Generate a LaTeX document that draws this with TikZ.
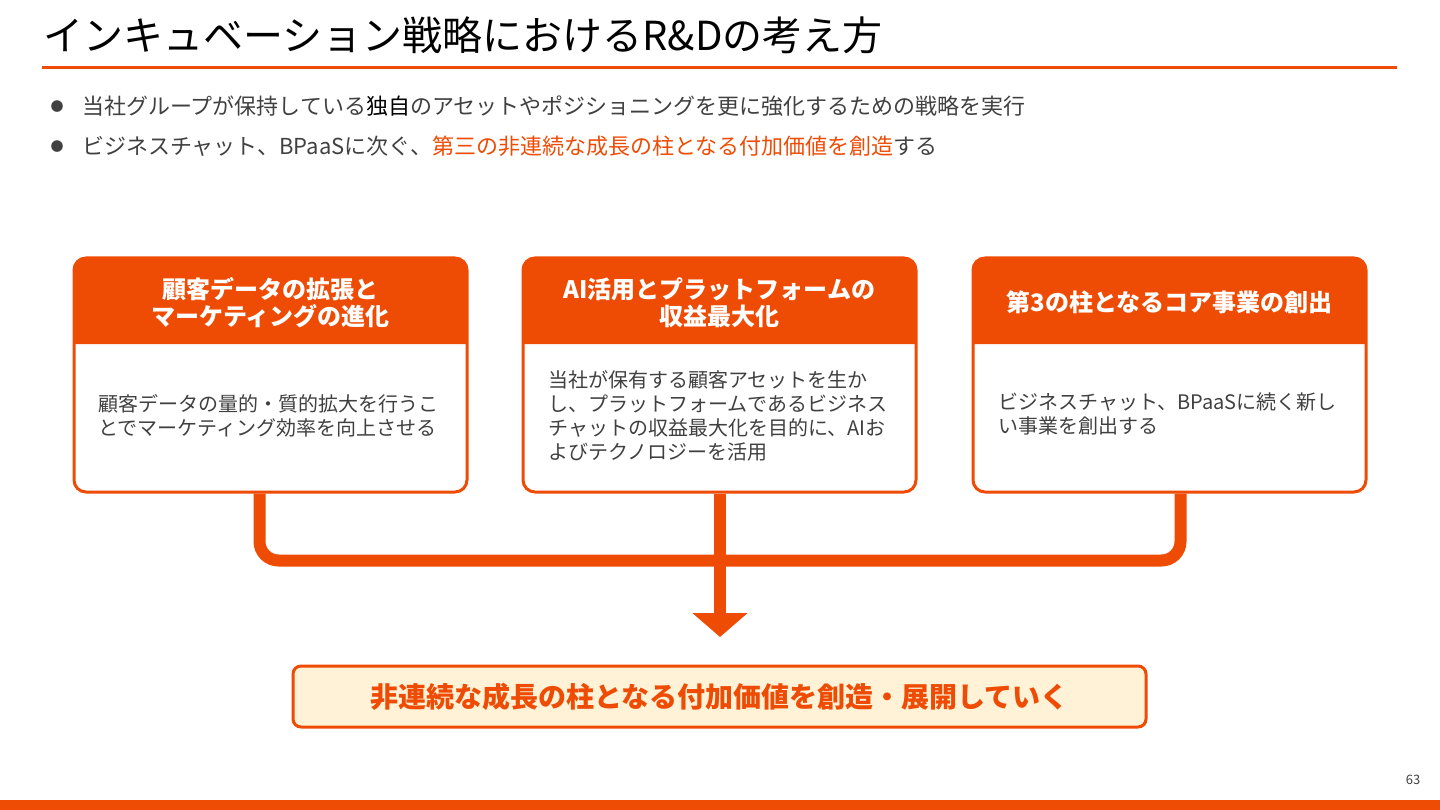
\documentclass[tikz,border=0pt]{standalone}
\usepackage{fontspec}
\setmainfont{Noto Sans CJK JP}
\usetikzlibrary{arrows.meta}
\definecolor{brand}{RGB}{238,76,5}
\definecolor{lightfill}{RGB}{255,242,214}
\definecolor{txtgray}{RGB}{64,64,64}
\tikzset{
  boxframe/.style={draw=brand, line width=3pt, rounded corners=12pt, fill=white, minimum width=393pt, minimum height=234pt, inner sep=0pt},
  headtxt/.style={text=white, font=\fontsize{24}{27}\selectfont\bfseries, align=center},
  bodytxt/.style={text=txtgray, font=\fontsize{20}{24}\selectfont, align=left, anchor=west, inner sep=0pt},
  bullettxt/.style={text=txtgray, font=\fontsize{22}{24}\selectfont, anchor=base west, inner sep=0pt},
  conn/.style={draw=brand, line width=12pt},
}
\begin{document}
\begin{tikzpicture}[x=1pt,y=-1pt]
\useasboundingbox (0,0) rectangle (1440,810);
% title
\node[anchor=base west, inner sep=0pt, font=\fontsize{40}{44}\selectfont] (title) at (43,51) {インキュベーション戦略におけるR\&Dの考え方};
\draw[brand, line width=3pt] (42,68) -- (1397,68);
% bullets
\node[text=txtgray, font=\fontsize{13}{15}\selectfont, inner sep=0pt] (d1) at (57,107) {●};
\node[bullettxt] (l1) at (82,115) {当社グループが保持している\textcolor{black}{独自}のアセットやポジショニングを更に強化するための戦略を実行};
\node[text=txtgray, font=\fontsize{13}{15}\selectfont, inner sep=0pt] (d2) at (57,147) {●};
\node[bullettxt] (l2) at (82,155) {ビジネスチャット、BPaaSに次ぐ、\textcolor{brand}{第三の非連続な成長の柱となる付加価値を創造}する};
% boxes
\node[boxframe] (b1) at (270.5,375) {};
\node[boxframe] (b2) at (719.5,375) {};
\node[boxframe] (b3) at (1169.5,375) {};
\fill[brand] (74,344) [rounded corners=12pt] -- (74,258) -- (467,258) [sharp corners] -- (467,344) -- cycle;
\fill[brand] (523,344) [rounded corners=12pt] -- (523,258) -- (916,258) [sharp corners] -- (916,344) -- cycle;
\fill[brand] (973,344) [rounded corners=12pt] -- (973,258) -- (1366,258) [sharp corners] -- (1366,344) -- cycle;
\node[headtxt] (h1) at (270.5,303) {顧客データの拡張と\\マーケティングの進化};
\node[headtxt] (h2) at (719.5,303) {AI活用とプラットフォームの\\収益最大化};
\node[headtxt] (h3) at (1169.5,302) {第3の柱となるコア事業の創出};
\node[bodytxt] (t1) at (98,416) {顧客データの量的・質的拡大を行うこ\\とでマーケティング効率を向上させる};
\node[bodytxt] (t2) at (548,416) {当社が保有する顧客アセットを生か\\し、プラットフォームであるビジネス\\チャットの収益最大化を目的に、AIお\\よびテクノロジーを活用};
\node[bodytxt] (t3) at (998,414) {ビジネスチャット、BPaaSに続く新し\\い事業を創出する};
% target box
\node[draw=brand, line width=3pt, fill=lightfill, rounded corners=8pt, minimum width=853pt, minimum height=61pt, text=brand, font=\fontsize{28}{30}\selectfont\bfseries] (goal) at (719.5,696.5) {非連続な成長の柱となる付加価値を創造・展開していく};
% connectors
\coordinate (s1) at ([xshift=-11pt]b1.south);
\coordinate (s3) at ([xshift=11pt]b3.south);
\coordinate (s2) at ([xshift=0.5pt]b2.south);
\coordinate (tip) at (720,637);
\draw[conn, rounded corners=19pt] (s1) -- (s1 |- 0,560.5) -- (s3 |- 0,560.5) -- (s3);
\draw[conn, -{Triangle[width=54pt,length=24pt]}] (s2) -- (tip);
% page number and footer bar
\node[font=\fontsize{13}{15}\selectfont, text=txtgray] (pg) at (1413,780) {63};
\fill[brand] (0,800) rectangle (1440,810);
\end{tikzpicture}
\end{document}
